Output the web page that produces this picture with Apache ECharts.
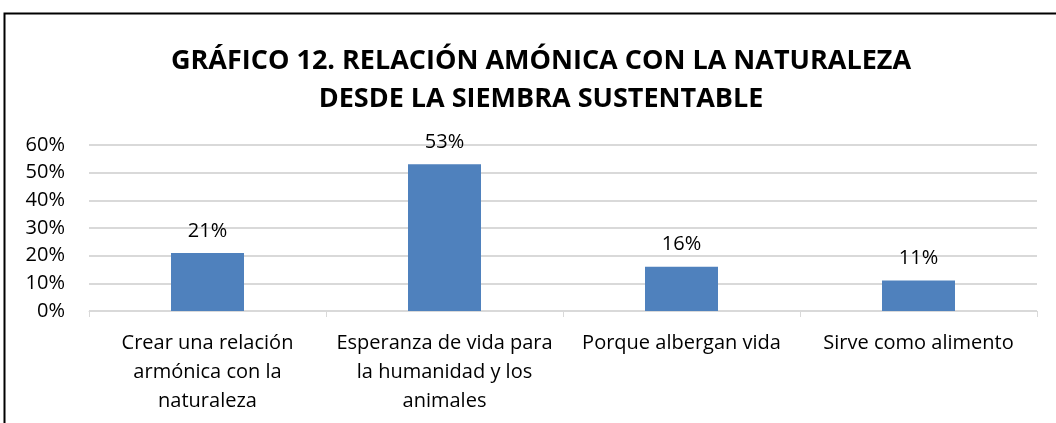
<!DOCTYPE html>
<html>
<head>
<meta charset="utf-8">
<script src="https://cdn.jsdelivr.net/npm/echarts@6/dist/echarts.min.js"></script>
<style>
  html, body { margin: 0; padding: 0; background: #fff; }
  #chart { width: 1056px; height: 423px; }
</style>
</head>
<body>
<div id="chart"></div>
<script>
// datos del gráfico
var categories = [
  'Crear una relación\narmónica con la\nnaturaleza',
  'Esperanza de vida para\nla humanidad y los\nanimales',
  'Porque albergan vida',
  'Sirve como alimento'
];
var values = [21, 53, 16, 11];
var yTicks = [0, 10, 20, 30, 40, 50, 60];

var font = 'Open Sans';
var chart = echarts.init(document.getElementById('chart'));
chart.setOption({
  animation: false,
  graphic: [{
    type: 'rect',
    shape: { x: 4.5, y: 13.5, width: 1100, height: 500 },
    style: { fill: 'none', stroke: '#000', lineWidth: 2 }
  }],
  title: {
    text: 'GRÁFICO 12. RELACIÓN AMÓNICA CON LA NATURALEZA\nDESDE LA SIEMBRA SUSTENTABLE',
    left: 536,
    top: 37,
    textAlign: 'center',
    textStyle: {
      fontFamily: font,
      fontWeight: 'bold',
      fontSize: 27,
      lineHeight: 38,
      color: '#000'
    }
  },
  grid: { left: 89, right: 19, top: 145, bottom: 112, containLabel: false },
  xAxis: {
    type: 'category',
    data: categories,
    axisLine: { lineStyle: { color: '#d9d9d9', width: 1 } },
    axisTick: { show: true, length: 6, lineStyle: { color: '#d9d9d9' } },
    axisLabel: {
      interval: 0,
      margin: 18,
      fontFamily: font,
      fontSize: 20,
      lineHeight: 29,
      color: '#000'
    }
  },
  yAxis: {
    type: 'value',
    min: yTicks[0],
    max: yTicks[yTicks.length - 1],
    interval: 10,
    axisLine: { show: false },
    axisTick: { show: false },
    splitLine: { lineStyle: { color: '#d9d9d9', width: 2 } },
    axisLabel: {
      margin: 24,
      fontFamily: font,
      fontSize: 20,
      color: '#000',
      formatter: '{value}%'
    }
  },
  series: [{
    type: 'bar',
    data: values,
    barWidth: 73,
    itemStyle: { color: '#4f81bd' },
    label: {
      show: true,
      position: 'top',
      distance: 12,
      formatter: '{c}%',
      fontFamily: font,
      fontSize: 20,
      color: '#000'
    }
  }]
});
</script>
</body>
</html>
